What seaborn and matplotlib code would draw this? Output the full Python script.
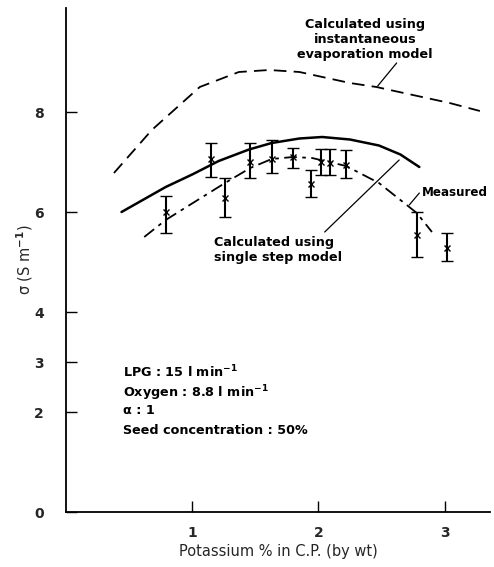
import numpy as np
import pandas as pd
import matplotlib
matplotlib.use("Agg")
import matplotlib.pyplot as plt
import seaborn as sns

# ---- data ----
# measured points (Potassium %, sigma) with error bar limits
meas_x = [0.79, 1.15, 1.26, 1.46, 1.63, 1.80, 1.94, 2.02, 2.09, 2.22, 2.78, 3.02]
meas_y = [6.00, 7.06, 6.28, 7.00, 7.06, 7.10, 6.56, 7.00, 6.98, 6.94, 5.55, 5.28]
meas_hi = [6.32, 7.38, 6.68, 7.38, 7.44, 7.28, 6.84, 7.26, 7.26, 7.24, 6.00, 5.58]
meas_lo = [5.58, 6.70, 5.90, 6.68, 6.78, 6.88, 6.30, 6.74, 6.74, 6.68, 5.10, 5.02]

# curve through measured points (dash-dot)
fit_x = [0.62, 0.79, 0.98, 1.26, 1.46, 1.63, 1.80, 1.95, 2.22, 2.48, 2.78, 2.90]
fit_y = [5.50, 5.84, 6.14, 6.58, 6.88, 7.06, 7.10, 7.08, 6.92, 6.58, 5.98, 5.60]

# calculated, single step model (solid)
single_x = [0.44, 0.79, 1.00, 1.21, 1.45, 1.63, 1.85, 2.03, 2.25, 2.48, 2.65, 2.80]
single_y = [6.00, 6.50, 6.75, 7.02, 7.25, 7.38, 7.47, 7.50, 7.45, 7.33, 7.15, 6.90]

# calculated, instantaneous evaporation model (dashed)
inst_x = [0.38, 0.68, 1.06, 1.37, 1.61, 1.85, 2.25, 2.46, 2.64, 3.04, 3.28]
inst_y = [6.78, 7.64, 8.50, 8.80, 8.84, 8.80, 8.58, 8.50, 8.40, 8.18, 8.02]

yticks = [0, 2, 3, 4, 6, 8]
xticks = [1, 2, 3]
notes = ["LPG : 15 l min$^{-1}$", "Oxygen : 8.8 l min$^{-1}$", "\u03b1 : 1",
         "Seed concentration : 50%"]

sns.set_theme(style="white")
plt.rcParams['font.family'] = ['DejaVu Sans']
plt.rcParams['font.weight'] = 'bold'

fig = plt.figure(figsize=(4.94, 5.67), dpi=100)
ax = fig.add_axes([66/494, 55/567, 424/494, 504/567])

sns.lineplot(x=inst_x, y=inst_y, ax=ax, color="black", lw=1.3, sort=False,
             estimator=None, linestyle=(0, (7, 4)))
sns.lineplot(x=single_x, y=single_y, ax=ax, color="black", lw=1.8, sort=False,
             estimator=None)
sns.lineplot(x=fit_x, y=fit_y, ax=ax, color="black", lw=1.3, sort=False,
             estimator=None, linestyle=(0, (7, 3, 2, 3)))

yerr = np.array([np.array(meas_y) - np.array(meas_lo),
                 np.array(meas_hi) - np.array(meas_y)])
ax.errorbar(meas_x, meas_y, yerr=yerr, fmt="x", color="black", ms=4, mew=1.0,
            elinewidth=1.5, capsize=4, capthick=1.3)

ax.set_xlim(0, 3.36)
ax.set_ylim(0, 10.08)
ax.set_xticks(xticks)
ax.set_yticks(yticks)
ax.set_xticklabels([str(v) for v in xticks], fontsize=10, fontweight="bold")
ax.set_yticklabels([str(v) for v in yticks], fontsize=10, fontweight="bold")
ax.tick_params(direction="in", length=8, width=1.0, color="black",
               left=True, bottom=True)
ax.tick_params(axis="x", pad=10)
ax.tick_params(axis="y", pad=16)
for s in ["top", "right"]:
    ax.spines[s].set_visible(False)
for s in ["left", "bottom"]:
    ax.spines[s].set_color("black")
    ax.spines[s].set_linewidth(1.3)

ax.set_xlabel("Potassium % in C.P. (by wt)", fontsize=10.5, fontweight="normal",
              labelpad=3)
ax.set_ylabel("\u03c3 (S m$^{-1}$)", fontsize=10.5, fontweight="normal")
ax.yaxis.set_label_coords(-0.072, 0.5)

tkw = dict(fontsize=9.2, fontweight="bold", color="black")
ax.text(2.37, 9.88, "Calculated using\ninstantaneous\nevaporation model",
        ha="center", va="top", linespacing=1.2, **tkw)
ax.plot([2.62, 2.47], [8.98, 8.52], color="black", lw=0.9)

ax.text(2.82, 6.40, "Measured", ha="left", va="center", fontsize=8.6,
        fontweight="bold", color="black")
ax.plot([2.80, 2.72], [6.38, 6.14], color="black", lw=0.9)

ax.text(1.17, 5.52, "Calculated using\nsingle step model", ha="left", va="top",
        linespacing=1.2, **tkw)
ax.plot([2.05, 2.64], [5.60, 7.04], color="black", lw=0.9)

ny = [2.80, 2.38, 2.02, 1.64]
for t, yv in zip(notes, ny):
    ax.text(0.45, yv, t, ha="left", va="center", **tkw)

fig.savefig("out.png", dpi=100)
